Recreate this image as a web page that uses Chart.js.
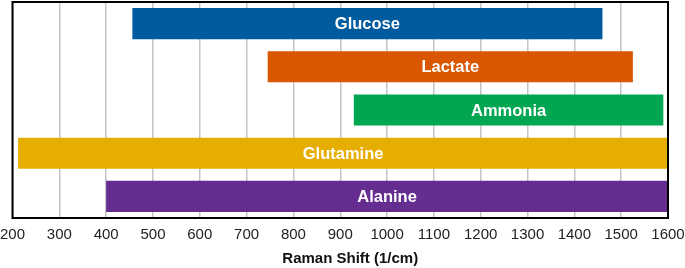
<!DOCTYPE html>
<html><head><meta charset="utf-8">
<script src="https://cdn.jsdelivr.net/npm/chart.js@4/dist/chart.umd.min.js"></script>
<style>html,body{margin:0;padding:0;background:#fff}#w{width:685px;height:268px}</style>
</head><body><div id="w"><canvas id="c"></canvas></div>
<script>
const categories = ["Glucose", "Lactate", "Ammonia", "Glutamine", "Alanine"];
const rangeStart = [456, 745, 929, 212, 400];
const rangeEnd = [1460, 1525, 1590, 1600, 1600];
const barColors = ["#005A9E", "#D95700", "#00A651", "#E6AE00", "#652D90"];
const xMin = 200, xMax = 1600, xStep = 100;
const xTitle = "Raman Shift (1/cm)";

const barLabels = {
  id: 'barLabels',
  afterDatasetsDraw(chart) {
    const ctx = chart.ctx;
    const meta = chart.getDatasetMeta(0);
    ctx.save();
    ctx.font = "bold 16.5px 'Liberation Sans', Arial, sans-serif";
    ctx.fillStyle = "#fff";
    ctx.textAlign = "center";
    ctx.textBaseline = "middle";
    meta.data.forEach((el, i) => {
      const p = el.getProps(['x', 'base', 'y'], true);
      ctx.fillText(categories[i], (p.x + p.base) / 2, p.y + 1);
    });
    ctx.restore();
  }
};
const frame = {
  id: 'frame',
  afterDraw(chart) {
    const a = chart.chartArea, ctx = chart.ctx;
    ctx.save();
    ctx.strokeStyle = "#000"; ctx.lineWidth = 2;
    ctx.strokeRect(a.left, a.top, a.right - a.left, a.bottom - a.top);
    ctx.font = "bold 15px 'Liberation Sans', Arial, sans-serif";
    ctx.fillStyle = "#111"; ctx.textAlign = "center"; ctx.textBaseline = "alphabetic";
    ctx.fillText(xTitle, (a.left + a.right) / 2 + 10, 263);
    ctx.restore();
  }
};

new Chart(document.getElementById('c'), {
  type: 'bar',
  data: {
    labels: categories,
    datasets: [{
      data: categories.map((c, i) => [rangeStart[i], rangeEnd[i]]),
      backgroundColor: barColors,
      borderWidth: 0,
      barPercentage: 0.72,
      categoryPercentage: 1
    }]
  },
  options: {
    indexAxis: 'y',
    responsive: true,
    maintainAspectRatio: false,
    animation: false,
    layout: { padding: { left: 0, right: 0, top: 2, bottom: 0 } },
    plugins: { legend: { display: false }, tooltip: { enabled: false } },
    scales: {
      x: {
        min: xMin, max: xMax,
        afterFit(scale) { scale.height = 50; scale.paddingLeft = 12.5; scale.paddingRight = 17; },
        ticks: { stepSize: xStep, color: "#222", padding: 8, maxRotation: 0, autoSkip: false,
                 callback: v => String(v),
                 font: { family: "'Liberation Sans', Arial, sans-serif", size: 15 } },
        grid: { color: "#c4c4c4", lineWidth: 1.5, drawTicks: false },
        border: { display: false }
      },
      y: {
        afterFit(scale) { scale.width = 0; },
        ticks: { display: false },
        grid: { display: false },
        border: { display: false }
      }
    }
  },
  plugins: [barLabels, frame]
});
</script>
</body></html>
